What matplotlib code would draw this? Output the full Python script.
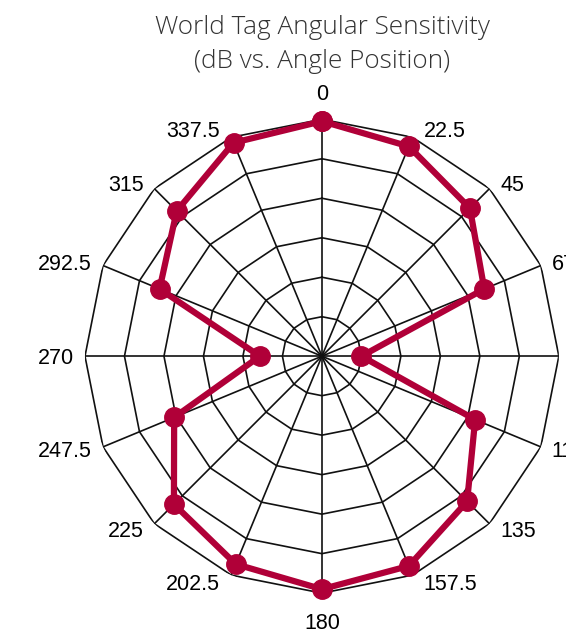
import matplotlib.pyplot as plt
import numpy as np

# angle positions (degrees) and measured sensitivity (ring units, 0-6)
angles = [0, 22.5, 45, 67.5, 90, 112.5, 135, 157.5,
          180, 202.5, 225, 247.5, 270, 292.5, 315, 337.5]
values = [5.95, 5.75, 5.3, 4.45, 1.0, 4.2, 5.2, 5.75,
          5.9, 5.7, 5.3, 4.05, 1.57, 4.45, 5.2, 5.85]
labels = ['0', '22.5', '45', '67.5', '90', '112.5', '135', '157.5',
          '180', '202.5', '225', '247.5', '270', '292.5', '315', '337.5']
rings = [1, 2, 3, 4, 5, 6]

fig = plt.figure(figsize=(5.66, 6.31), dpi=100)
ax = fig.add_axes([0.150, 0.060, 0.8375, 0.751], projection='polar')
ax.set_theta_zero_location('N')
ax.set_theta_direction(-1)
ax.set_ylim(0, 6)
ax.grid(False)
ax.set_xticks([])
ax.set_yticks([])
ax.spines['polar'].set_visible(False)
ax.patch.set_visible(False)

th = np.deg2rad(angles)
th_closed = np.append(th, th[0])

# polygon grid
for r in rings:
    ax.plot(th_closed, [r] * len(th_closed), color='#111111', lw=1.2, zorder=1)
for t in th:
    ax.plot([t, t], [0, rings[-1]], color='#111111', lw=1.2, zorder=1)

# data line
vals_closed = values + [values[0]]
ax.plot(th_closed, vals_closed, color='#B00038', lw=4.5, marker='o',
        markersize=14, zorder=3, clip_on=False, solid_joinstyle='miter')

# angle labels, offset in pixels from each outer vertex
for t, lab in zip(th, labels):
    s, c = np.sin(t), np.cos(t)
    if abs(s) < 0.1:
        ha = 'center'
        va = 'bottom' if c > 0 else 'top'
        dx, dy = 0, (14 if c > 0 else -20)
    else:
        ha = 'left' if s > 0 else 'right'
        va = 'center'
        dx, dy = (11 if s > 0 else -11), 8 * c - 2
    ax.annotate(lab, xy=(t, rings[-1]), xytext=(dx, dy), textcoords='offset pixels',
                ha=ha, va=va, fontsize=15.5, family='Liberation Sans',
                color='black', annotation_clip=False)

fig.text(0.569, 0.957, 'World Tag Angular Sensitivity', ha='center', va='center',
         fontsize=18.8, family='Open Sans', weight='light', color='#333333')
fig.text(0.569, 0.902, '(dB vs. Angle Position)', ha='center', va='center',
         fontsize=18.8, family='Open Sans', weight='light', color='#333333')

fig.savefig('out.png', dpi=100)
